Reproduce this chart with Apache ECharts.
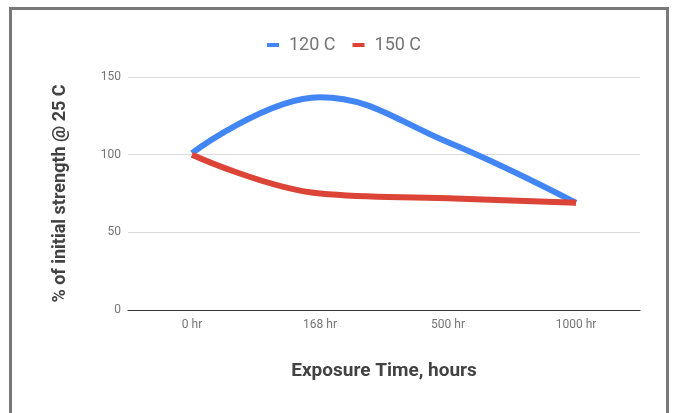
<!DOCTYPE html>
<html><head><meta charset="utf-8">
<script src="https://cdn.jsdelivr.net/npm/echarts@6/dist/echarts.min.js"></script>
<style>
html,body{margin:0;padding:0;background:#fff;width:678px;height:413px;overflow:hidden;}
#frame{position:absolute;left:9px;top:7px;width:654px;height:420px;border:3px solid #787878;border-bottom:none;}
#c{position:absolute;left:0;top:0;width:678px;height:413px;}
</style></head>
<body>
<div id="frame"></div>
<div id="c"></div>
<script>
const categories = ['0 hr','168 hr','500 hr','1000 hr'];
const s120 = [101, 137, 108, 69];
const s150 = [100, 75, 72, 69];
const yTicks = [0, 50, 100, 150];

const chart = echarts.init(document.getElementById('c'));
chart.setOption({
  animation:false,
  textStyle:{fontFamily:'Roboto'},
  legend:{
    top:31, left:262,
    icon:'rect', itemWidth:12, itemHeight:4, itemGap:17,
    textStyle:{fontSize:18,color:'#757575',fontFamily:'Roboto',padding:[0,0,0,5]},
    data:['120 C','150 C']
  },
  grid:{left:128,right:38,top:77,bottom:103},
  xAxis:{
    type:'category', data:categories, boundaryGap:true,
    axisLine:{lineStyle:{color:'#333',width:1}},
    axisTick:{show:false},
    axisLabel:{color:'#757575',fontSize:12,margin:9},
    name:'Exposure Time, hours', nameLocation:'middle', nameGap:52,
    nameTextStyle:{fontSize:19,fontWeight:'bold',color:'#424242',fontFamily:'Roboto'}
  },
  yAxis:{
    type:'value', min:yTicks[0], max:yTicks[yTicks.length-1], interval:50,
    axisLine:{show:false}, axisTick:{show:false},
    axisLabel:{color:'#757575',fontSize:12,margin:7},
    splitLine:{lineStyle:{color:'#d9d9d9'}},
    name:'% of initial strength @ 25 C', nameLocation:'middle', nameGap:59,
    nameTextStyle:{fontSize:18,fontWeight:'bold',color:'#424242',fontFamily:'Roboto'}
  },
  series:[
    {name:'120 C',type:'line',data:s120,smooth:0.4,showSymbol:false,
     lineStyle:{width:6,color:'#4285f4'},itemStyle:{color:'#4285f4'}},
    {name:'150 C',type:'line',data:s150,smooth:0.4,showSymbol:false,
     lineStyle:{width:6,color:'#db4437'},itemStyle:{color:'#db4437'}}
  ]
});
</script>
</body></html>
